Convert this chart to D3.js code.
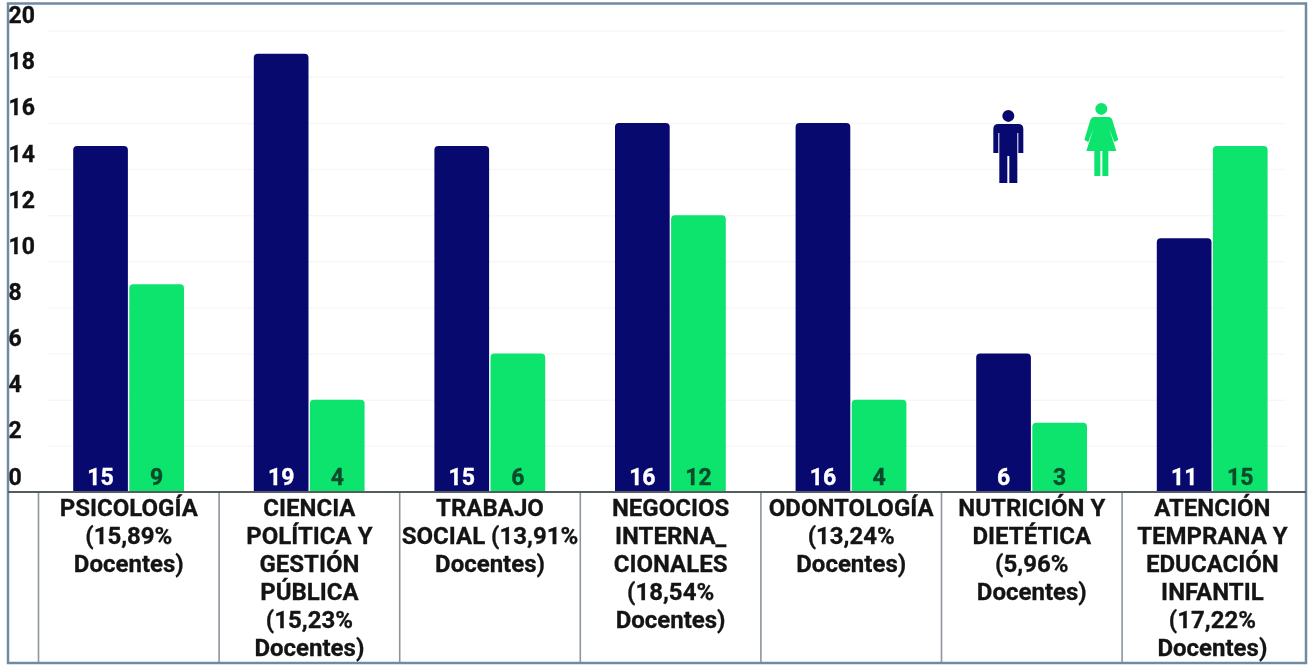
<!DOCTYPE html>
<html><head><meta charset="utf-8">
<script src="https://cdn.jsdelivr.net/npm/d3@7"></script>
<style>html,body{margin:0;padding:0;background:#fff}svg{display:block;filter:blur(.6px)}text{font-family:Roboto,sans-serif;font-weight:700}</style>
</head><body><svg id="c" width="1312" height="665"></svg>
<script>
const categories=[
 ["PSICOLOGÍA","(15,89%","Docentes)"],
 ["CIENCIA","POLÍTICA Y","GESTIÓN","PÚBLICA","(15,23%","Docentes)"],
 ["TRABAJO","SOCIAL (13,91%","Docentes)"],
 ["NEGOCIOS","INTERNA_","CIONALES","(18,54%","Docentes)"],
 ["ODONTOLOGÍA","(13,24%","Docentes)"],
 ["NUTRICIÓN Y","DIETÉTICA","(5,96%","Docentes)"],
 ["ATENCIÓN","TEMPRANA Y","EDUCACIÓN","INFANTIL","(17,22%","Docentes)"]];
const hombres=[15,19,15,16,16,6,11];
const mujeres=[9,4,6,12,4,3,15];
const yTicks=[0,2,4,6,8,10,12,14,16,18,20];
const navy="#07096f",green="#0de46e";
const svg=d3.select("#c");
const idx=d3.range(categories.length);
const x=d3.scaleBand().domain(idx).range([38.5,1302.7]);
const y=d3.scaleLinear().domain([0,20]).range([492,30.6]);
const sub=d3.scaleBand().domain([0,1]).range([34.7,145.5]).paddingInner(.025);
// frame
svg.append("rect").attr("x",8).attr("y",3.5).attr("width",1298).attr("height",659.5).attr("fill","#fff").attr("stroke","#6f8ba3").attr("stroke-width",2.5);
// axis and grid
const axis=d3.axisLeft(y).tickValues(yTicks).tickSize(0).tickPadding(0);
const gy=svg.append("g").call(axis);
gy.select(".domain").remove();
gy.selectAll("text").attr("x",8.5).attr("dy",-8).attr("text-anchor","start").attr("font-size",23).attr("fill","#111")
  .attr("stroke","#111").attr("stroke-width",.35)
  .style("font-family","Roboto").style("font-weight",700);
gy.selectAll(".tick").filter(d=>d>0).append("line").attr("x1",48).attr("x2",1285).attr("stroke","#f7f7f4").attr("stroke-width",1.5);
// category separators
const sep=svg.append("g").attr("stroke","#8c949c").attr("stroke-width",1.6);
idx.forEach(i=>sep.append("line").attr("x1",x(i)).attr("x2",x(i)).attr("y1",y(0)).attr("y2",662));
// bars
const r=4;
function bar(xx,w,v){const t=y(v),b=y(0);return `M${xx},${b}V${t+r}Q${xx},${t} ${xx+r},${t}H${xx+w-r}Q${xx+w},${t} ${xx+w},${t+r}V${b}Z`;}
[[hombres,0,navy,"#fff"],[mujeres,1,green,"#0b4a2a"]].forEach(([vals,k,col,tc])=>{
 const g=svg.append("g");
 g.selectAll("path").data(idx).join("path").attr("fill",col)
  .attr("d",i=>bar(x(i)+sub(k),sub.bandwidth(),vals[i]));
 g.selectAll("text").data(idx).join("text").attr("text-anchor","middle").attr("font-size",23).attr("fill",tc)
  .attr("stroke",tc).attr("stroke-width",.35)
  .attr("x",i=>x(i)+sub(k)+sub.bandwidth()/2).attr("y",y(0)-7).text(i=>vals[i]);
});
// baseline
svg.append("line").attr("x1",8).attr("x2",1306).attr("y1",y(0)).attr("y2",y(0)).attr("stroke","#555c60").attr("stroke-width",2);
// category labels
const cl=svg.append("g").attr("text-anchor","middle").attr("font-size",24).attr("fill","#141414").attr("stroke","#141414").attr("stroke-width",.3);
categories.forEach((lines,i)=>{
 lines.forEach((t,j)=>cl.append("text").attr("x",x(i)+x.bandwidth()/2).attr("y",516+j*28).text(t));
});
// icons
const man=svg.append("g").attr("transform",`translate(${x(5)+x.bandwidth()*0.37},${y(16)-13})`).attr("fill",navy);
man.append("circle").attr("cx",0).attr("cy",6).attr("r",6);
man.append("path").attr("d","M-10,14Q-15,14 -15,19V43H-10V23H-9V73H-1V46H1V73H9V23H10V43H15V19Q15,14 10,14Z");
const wom=svg.append("g").attr("transform",`translate(${x(5)+x.bandwidth()*0.885},${y(16)-20})`).attr("fill",green);
wom.append("circle").attr("cx",0).attr("cy",6).attr("r",6);
wom.append("path").attr("d","M-7,14Q-10,14 -11,17L-17,37L-13,39L-8,26L-15,48H-7V73H-1V48H1V73H7V48H15L8,26L13,39L17,37L11,17Q10,14 7,14Z");
</script></body></html>
